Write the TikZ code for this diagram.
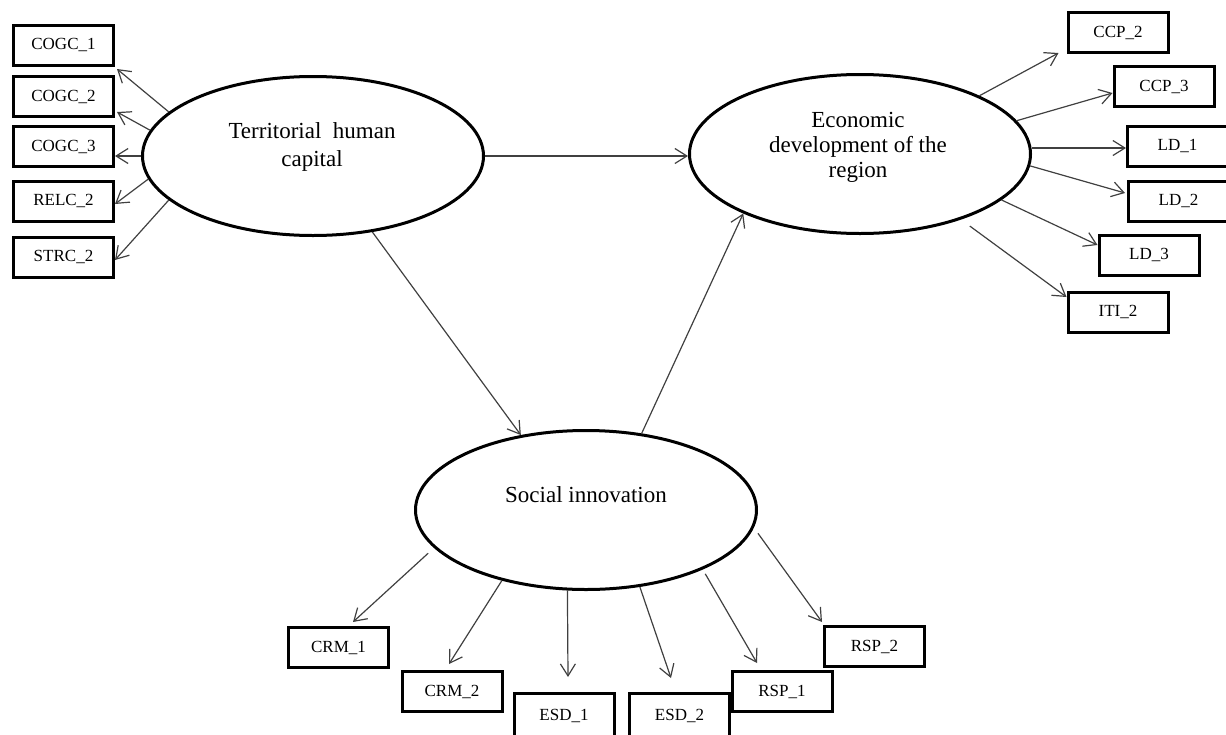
\documentclass[tikz,border=0pt]{standalone}
\usepackage{fontspec}
\setmainfont{Liberation Serif}
\usetikzlibrary{arrows.meta,shapes.geometric}
\begin{document}
\begin{tikzpicture}[x=1pt,y=-1pt,
  latent/.style={ellipse,draw=black,line width=3pt,fill=white,
    minimum width=341pt,minimum height=159pt,inner sep=0pt},
  latentlabel/.style={align=center,inner sep=0pt,
    font=\fontsize{23}{28}\selectfont},
  indicator/.style={rectangle,draw=black,line width=3pt,fill=white,
    minimum width=100pt,minimum height=40pt,inner sep=0pt,
    font=\fontsize{17}{20}\selectfont},
  tallindicator/.style={indicator,minimum height=46pt},
  link/.style={draw=black!75,line width=1.2pt,
    -{Straight Barb[length=12pt,width=15pt]}}
]
\useasboundingbox (0,0) rectangle (1226,734);

% latent constructs
\node[latent] (thc) at (313,156) {};
\node[latent] (eco) at (860,154) {};
\node[latent] (si)  at (586,510) {};

\node[latentlabel] (thc-text) at (312,147) {Territorial\ \ human\\capital};
\node[latentlabel,font=\fontsize{23}{25}\selectfont] (eco-text) at (858,147)
  {Economic\\development of the\\region};
\node[anchor=base,inner sep=0pt,font=\fontsize{23}{28}\selectfont] (si-text)
  at (586,502) {Social innovation};

% indicators of territorial human capital
\node[indicator] (cogc1) at (63.5,45)   {COGC\_1};
\node[indicator] (cogc2) at (63.5,96.5) {COGC\_2};
\node[indicator] (cogc3) at (63.5,146.5){COGC\_3};
\node[indicator] (relc2) at (63.5,201)  {RELC\_2};
\node[indicator] (strc2) at (63.5,257)  {STRC\_2};

% indicators of economic development
\node[indicator] (ccp2) at (1118,32.5)  {CCP\_2};
\node[indicator] (ccp3) at (1164,86.5)  {CCP\_3};
\node[indicator] (ld1)  at (1177.5,146) {LD\_1};
\node[indicator] (ld2)  at (1178.5,201) {LD\_2};
\node[indicator] (ld3)  at (1149,255)   {LD\_3};
\node[indicator] (iti2) at (1118,312)   {ITI\_2};

% indicators of social innovation (the lowest two run off the bottom edge)
\node[indicator] (crm1) at (338.5,647.5) {CRM\_1};
\node[indicator] (crm2) at (452,691.5)   {CRM\_2};
\node[tallindicator] (esd1) at (564,716.5)   {\raisebox{3pt}{ESD\_1}};
\node[tallindicator] (esd2) at (679.5,716.5) {\raisebox{3pt}{ESD\_2}};
\node[indicator] (rsp2) at (874.5,646.5) {RSP\_2};
\node[indicator] (rsp1) at (782,691.5)   {RSP\_1};

% structural paths
\draw[link] (thc.east) -- (thc.east -| eco.west);
\draw[link] (thc.-52.6) -- (si.131.2);
\draw[link] (si.54.5) -- (eco.207.7);

% loadings: territorial human capital
\draw[link] (thc.163.4) -- ([xshift=2pt,yshift=-24pt]cogc1.east);
\draw[link] (thc.171.8) -- ([xshift=2pt,yshift=-15.5pt]cogc2.east);
\draw[link] (thc.west) -- (thc.west -| cogc3.east);
\draw[link] (thc.188.6) -- ([yshift=-3pt]relc2.east);
\draw[link] (thc.197.8) -- ([yshift=-3pt]strc2.east);

% loadings: economic development
\draw[link] (eco.26.6) -- ([xshift=-8pt,yshift=1pt]ccp2.south west);
\draw[link] (eco.12.5) -- ([yshift=-6.5pt]ccp3.west);
\draw[link] (eco.2.3) -- (eco.2.3 -| ld1.west);
\draw[link] (eco.-4.7) -- ([xshift=-2pt,yshift=8pt]ld2.west);
\draw[link] (eco.-18.9) -- ([yshift=10pt]ld3.west);
\draw[link,shorten <=11pt] (eco.-33) -- ([yshift=15pt]iti2.west);

% loadings: social innovation
\draw[link,shorten <=8pt] (si.194.7) -- ([xshift=14.5pt,yshift=4pt]crm1.north);
\draw[link] (si.220) -- ([xshift=-3pt,yshift=6pt]crm2.north);
\draw[link] (si.257.6) -- ([xshift=4pt,yshift=15pt]esd1.north);
\draw[link] (si.305.5) -- ([xshift=-8.5pt,yshift=14pt]esd2.north);
\draw[link,shorten <=5pt] (si.333.2) -- ([xshift=-25pt,yshift=7pt]rsp1.north);
\draw[link,shorten <=7pt] (si.354) -- ([xshift=-1pt,yshift=3pt]rsp2.north west);
\end{tikzpicture}
\end{document}
